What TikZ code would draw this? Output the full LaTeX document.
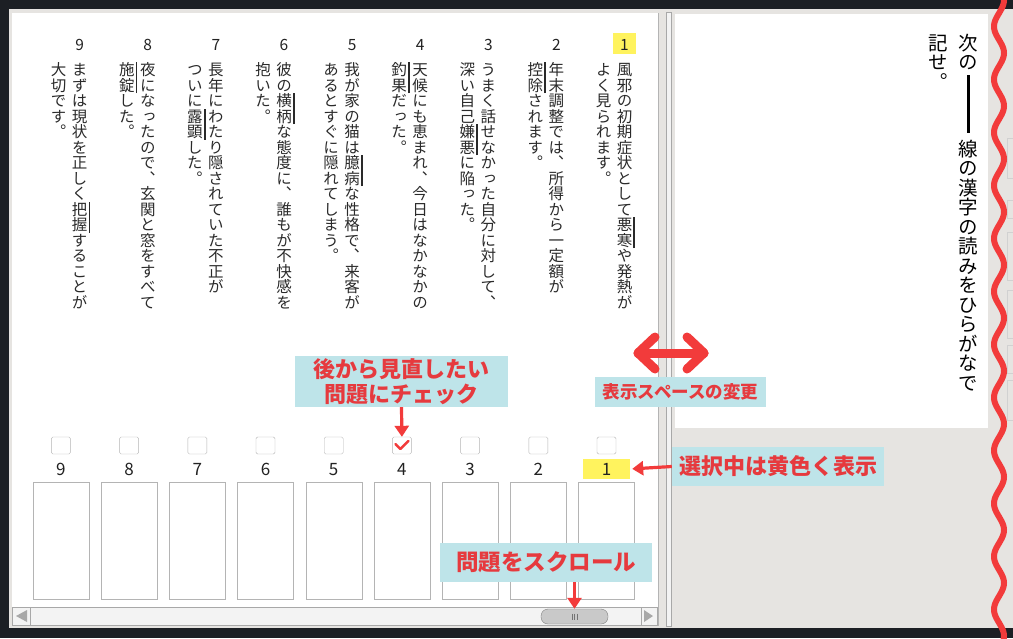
\documentclass[tikz,border=0pt]{standalone}
\usepackage{fontspec}
\usepackage{xcolor}
\usepackage{tikz}
\usetikzlibrary{arrows.meta}
\newfontfamily\jp{Noto Sans CJK JP}
\newfontfamily\tate[RawFeature=+vert]{Noto Sans CJK JP}
\definecolor{framedark}{HTML}{1C1F24}
\definecolor{panelgray}{HTML}{E6E4E1}
\definecolor{boxgray}{HTML}{B4B4B4}
\definecolor{sbgray}{HTML}{A8A8A8}
\definecolor{sbtrack}{HTML}{F3F3F3}
\definecolor{thumbgray}{HTML}{C9C9C9}
\definecolor{textdark}{HTML}{2A2A2A}
\definecolor{numdark}{HTML}{222222}
\definecolor{hiyellow}{HTML}{FFF35E}
\definecolor{notebg}{HTML}{BEE4E9}
\definecolor{notered}{HTML}{E63A3E}
\definecolor{arrowred}{HTML}{F23B3B}
% vertical lines of text, one character per box
\makeatletter
\newcommand\bousen{}
\newcommand\tatebox[1]{\hbox to 1em{\vrule height .88em depth .12em width 0pt\hss#1\hss}}
\newcommand\tatebar[1]{\hbox to 1em{\vrule height .88em depth .12em width 0pt\hss#1\hss\rlap{\kern .07em\vrule height .88em depth .12em width 1.8pt}}}
\newcommand\tateline[1]{\vbox{\baselineskip=1em\lineskiplimit=-1em\lineskip=0pt\expandafter\tate@l#1\relax}}
\def\tate@l#1{%
  \ifx#1\relax\expandafter\@gobble
  \else\ifx#1\bousen\expandafter\expandafter\expandafter\tate@b
  \else\expandafter\expandafter\expandafter\tate@c\fi\fi{#1}}
\def\tate@c#1{\tatebox{#1}\tate@l}
\def\tate@b#1#2{\tate@bb#2\relax\tate@l}
\def\tate@bb#1{\ifx#1\relax\else\tatebar{#1}\expandafter\tate@bb\fi}
\makeatother
\tikzset{
    qnum/.style = {inner sep=0pt, text=numdark, font=\jp\fontsize{15.5}{18}\selectfont},
    qline/.style = {inner sep=0pt, anchor=north, text=textdark, font=\tate\fontsize{15.5}{15.5}\selectfont},
    inst/.style = {qline, text=black, font=\tate\fontsize{19.5}{19.5}\selectfont},
    chk_box/.style = {draw=boxgray, rounded corners=1.5pt, minimum width=19pt, minimum height=17pt, inner sep=0pt},
    ans_box/.style = {draw=boxgray, fill=white, minimum width=56pt, minimum height=117pt, inner sep=0pt},
    anum/.style = {inner sep=0pt, text=numdark, font=\jp\fontsize{17}{20}\selectfont},
    sel_box/.style = {fill=hiyellow, inner sep=0pt}
}
\tikzset{
    note/.style = {fill=notebg, text=notered, inner sep=0pt, align=center, font=\jp\bfseries\fontsize{22}{25.5}\selectfont},
    red_arrow/.style = {draw=arrowred, line width=3.2pt, -{Triangle[length=11pt, width=14pt]}},
    split_arrow/.style = {draw=arrowred, line width=9pt, line cap=round, line join=round},
    wave_line/.style = {draw=arrowred, line width=6pt},
    sb_line/.style = {draw=sbgray, line width=0.8pt}
}
\begin{document}
\begin{tikzpicture}[x=1pt, y=-1pt]
\useasboundingbox (0,0) rectangle (1013,638);
% screen
\fill[framedark] (0,0) rectangle (1013,638);
\fill[panelgray] (9,9) rectangle (1013,628);
\fill[white] (12,13) rectangle (658,626);
\draw[boxgray] (658.5,13) -- (658.5,626);
\draw[sb_line, fill=sbtrack] (666,12) rectangle (671,626);
\fill[white] (675,14) rectangle (988,428);
\foreach \y/\h in {138/40, 200/18, 232/48, 290/48, 345/28, 380/40} {
    \draw[black!18] (1007,\y) rectangle (1020,\y+\h);
}

% questions
\node[sel_box, minimum width=23pt, minimum height=21pt] (sel0) at (624.5,43.5) {};
\foreach \i/\la/\lb in {
    1/風邪の初期症状として\bousen{悪寒}や発熱が/よく見られます。,
    2/年末調整では、所得から一定額が/\bousen{控除}されます。,
    3/うまく話せなかった自分に対して、/深い自己\bousen{嫌悪}に陥った。,
    4/天候にも恵まれ、今日はなかなかの/\bousen{釣果}だった。,
    5/我が家の猫は\bousen{臆病}な性格で、来客が/あるとすぐに隠れてしまう。,
    6/彼の\bousen{横柄}な態度に、誰もが不快感を/抱いた。,
    7/長年にわたり隠されていた不正が/ついに\bousen{露顕}した。,
    8/夜になったので、玄関と窓をすべて/\bousen{施錠}した。,
    9/まずは現状を正しく\bousen{把握}することが/大切です。} {
    \pgfmathsetmacro\cx{624.5-(\i-1)*68.1}
    \node[qnum] (qn\i) at (\cx,45) {\i};
    \node[qline] (q\i-a) at (\cx,62) {\tateline{\la}};
    \node[qline] (q\i-b) at (\cx-21,62) {\tateline{\lb}};
}

% instruction
\node[inst] (inst-a) at (968,33) {\tateline{次の}};
\node[inst] (inst-b) at (968,139) {\tateline{線の漢字の読みをひらがなで}};
\node[inst] (inst-c) at (938,33) {\tateline{記せ。}};
\draw[black, line width=3pt] (968,75) -- (968,133);

% answer sheet
\node[sel_box, minimum width=47pt, minimum height=20pt] (sel1) at (606.5,469) {};
\foreach \i in {1,...,9} {
    \pgfmathsetmacro\bx{606.5-(\i-1)*68.2}
    \node[chk_box] (c\i) at (\bx,445.5) {};
    \node[anum] (n\i) at (\bx,469.5) {\i};
    \node[ans_box] (a\i) at (\bx,540.5) {};
}
\draw[arrowred, line width=2.4pt, line cap=round, line join=round]
    (c4.center) ++(-6.5,-1.5) -- ++(5,5) -- ++(8,-8);

% scrollbar
\draw[sb_line, fill=sbtrack] (12,607) rectangle (657,625);
\draw[sb_line] (30,607) -- (30,625);
\draw[sb_line] (641,607) -- (641,625);
\fill[sbgray] (16,616) -- (27,610) -- (27,622) -- cycle;
\fill[sbgray] (653,616) -- (644,610) -- (644,622) -- cycle;
\node[draw=black!50, fill=thumbgray, rounded corners=7pt, minimum width=67pt, minimum height=15pt, inner sep=0pt] (thumb) at (574.5,616.5) {};
\foreach \g in {-2.5,0,2.5} {
    \draw[black!55, line width=0.8pt] ([xshift=\g pt]thumb.center) ++(0,-3) -- ++(0,6);
}

% notes
\node[note, minimum width=213pt, minimum height=51pt] (note-chk) at (401.5,381.5) {後から見直したい\\問題にチェック};
\draw[red_arrow] (note-chk.south) -- (c4.north);
\node[note, minimum width=212pt, minimum height=39pt] (note-sel) at (778,466.5) {選択中は黄色く表示};
\draw[red_arrow, shorten >=2pt] (note-sel.west) -- (sel1.east);
\node[note, minimum width=212pt, minimum height=39pt, font=\jp\bfseries\fontsize{22.5}{26}\selectfont] (note-scr) at (546,562.5) {問題をスクロール};
\draw[red_arrow] (thumb.north |- note-scr.south) -- (thumb.north);
\node[note, minimum width=171pt, minimum height=30pt, font=\jp\bfseries\fontsize{17.5}{20}\selectfont] (note-split) at (680.5,392) {表示スペースの変更};
\draw[split_arrow] (638,353) -- (704,353);
\draw[split_arrow] (655,337) -- (638,353) -- (655,369);
\draw[split_arrow] (687,337) -- (704,353) -- (687,369);

% cut edge
\draw[wave_line] plot[domain=-6:644, samples=320, smooth] ({999+5*cos(6.7925*\x)}, \x);
\end{tikzpicture}
\end{document}
